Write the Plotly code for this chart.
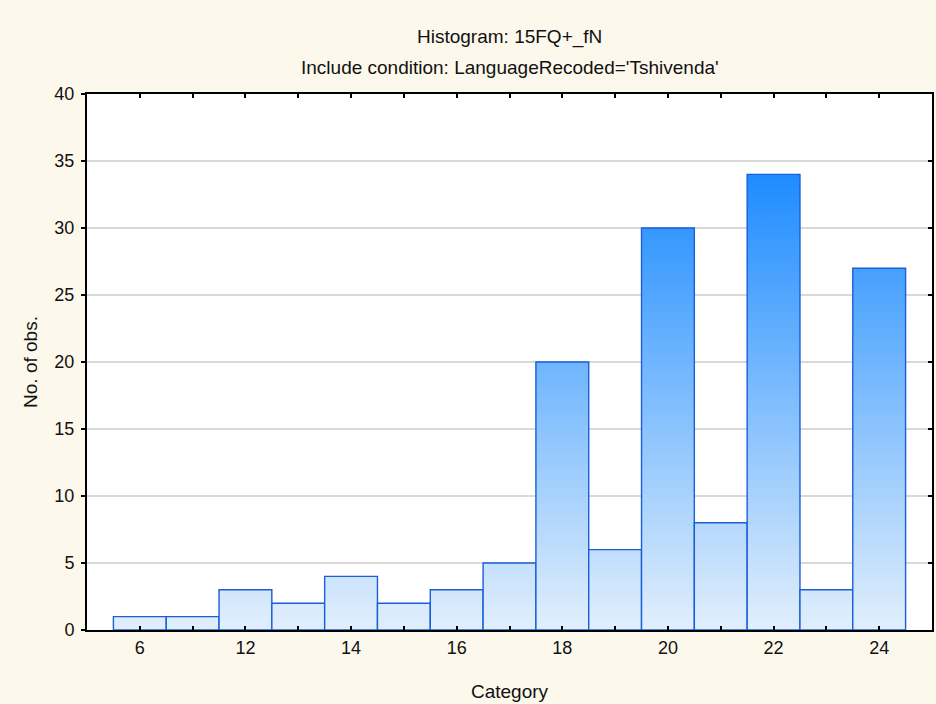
import plotly.graph_objects as go

# Data
categories = ["6", "", "12", "", "14", "", "16", "", "18", "", "20", "", "22", "", "24"]
counts = [1, 1, 3, 2, 4, 2, 3, 5, 20, 6, 30, 8, 34, 3, 27]
y_ticks = [0, 5, 10, 15, 20, 25, 30, 35, 40]

title_line1 = "Histogram: 15FQ+_fN"
title_line2 = "Include condition: LanguageRecoded='Tshivenda'"
x_title = "Category"
y_title = "No. of obs."

FONT = "Liberation Sans, Arial, sans-serif"
positions = list(range(len(counts)))
vmax = max(counts)

W, H = 936, 704
ML, MR, MT, MB = 87, 4, 94, 74
OUTLINE = "#1A5ED8"

fig = go.Figure()

# Hover-only bar trace (transparent), on the right-hand mirror axis
fig.add_trace(go.Bar(
    x=positions,
    y=counts,
    width=1,
    yaxis="y2",
    marker=dict(color="rgba(0,0,0,0)", line=dict(width=0)),
    showlegend=False,
))

# Gradient-filled bars with outlines (absolute vertical gradient shared by all bars)
for pos, val in zip(positions, counts):
    fig.add_trace(go.Scatter(
        x=[pos - 0.5, pos - 0.5, pos + 0.5, pos + 0.5, pos - 0.5],
        y=[0, val, val, 0, 0],
        mode="lines",
        line=dict(width=1.4, color=OUTLINE),
        fill="toself",
        fillgradient=dict(
            type="vertical",
            colorscale=[[0, "#E2EFFC"], [1, "#1E8CFF"]],
            start=0,
            stop=vmax,
        ),
        hoverinfo="skip",
        showlegend=False,
    ))

plot_h = H - MT - MB


def py(pix):
    return (H - MB - pix) / plot_h


fig.update_layout(
    template="none",
    width=W,
    height=H,
    autosize=False,
    margin=dict(l=ML, r=MR, t=MT, b=MB, pad=0),
    paper_bgcolor="#FDF8EC",
    plot_bgcolor="#FFFFFF",
    font=dict(family=FONT, size=17, color="#111111"),
    bargap=0,
    showlegend=False,
)
fig.add_annotation(text=title_line1, x=0.5, y=py(37), xref="paper", yref="paper",
                   showarrow=False, font=dict(family=FONT, size=19), yanchor="middle", xanchor="center")
fig.add_annotation(text=title_line2, x=0.5, y=py(67), xref="paper", yref="paper",
                   showarrow=False, font=dict(family=FONT, size=19), yanchor="middle", xanchor="center")

fig.update_layout(
    xaxis=dict(
        range=[-1, 15],
        automargin=False,
        tickmode="array",
        tickvals=positions,
        ticktext=categories,
        ticks="inside",
        ticklen=4,
        tickwidth=2,
        tickcolor="#000000",
        showline=True,
        linecolor="#000000",
        linewidth=2,
        mirror="ticks",
        showgrid=False,
        zeroline=False,
        title=dict(text=x_title, standoff=28, font=dict(family=FONT, size=19)),
        tickfont=dict(family=FONT, size=18),
    ),
    yaxis=dict(
        range=[0, 40],
        automargin=False,
        tickmode="array",
        tickvals=y_ticks,
        ticks="outside",
        ticklen=4,
        tickwidth=2,
        tickcolor="#000000",
        showline=True,
        linecolor="#000000",
        linewidth=2,
        mirror=True,
        showgrid=True,
        gridcolor="#D9D9D9",
        gridwidth=1.5,
        zeroline=False,
        ticklabelstandoff=3,
        title=dict(text=y_title, standoff=12, font=dict(family=FONT, size=19)),
        tickfont=dict(family=FONT, size=18),
    ),
    yaxis2=dict(
        range=[0, 40],
        overlaying="y",
        side="right",
        automargin=False,
        tickmode="array",
        tickvals=y_ticks,
        ticks="inside",
        ticklen=4,
        tickwidth=2,
        tickcolor="#000000",
        showticklabels=False,
        showline=False,
        showgrid=False,
        zeroline=False,
    ),
)

fig.write_html(
    "out.html",
    config={"responsive": False, "displayModeBar": False},
    post_script="document.body.style.margin='0';document.body.style.overflow='hidden';",
)
